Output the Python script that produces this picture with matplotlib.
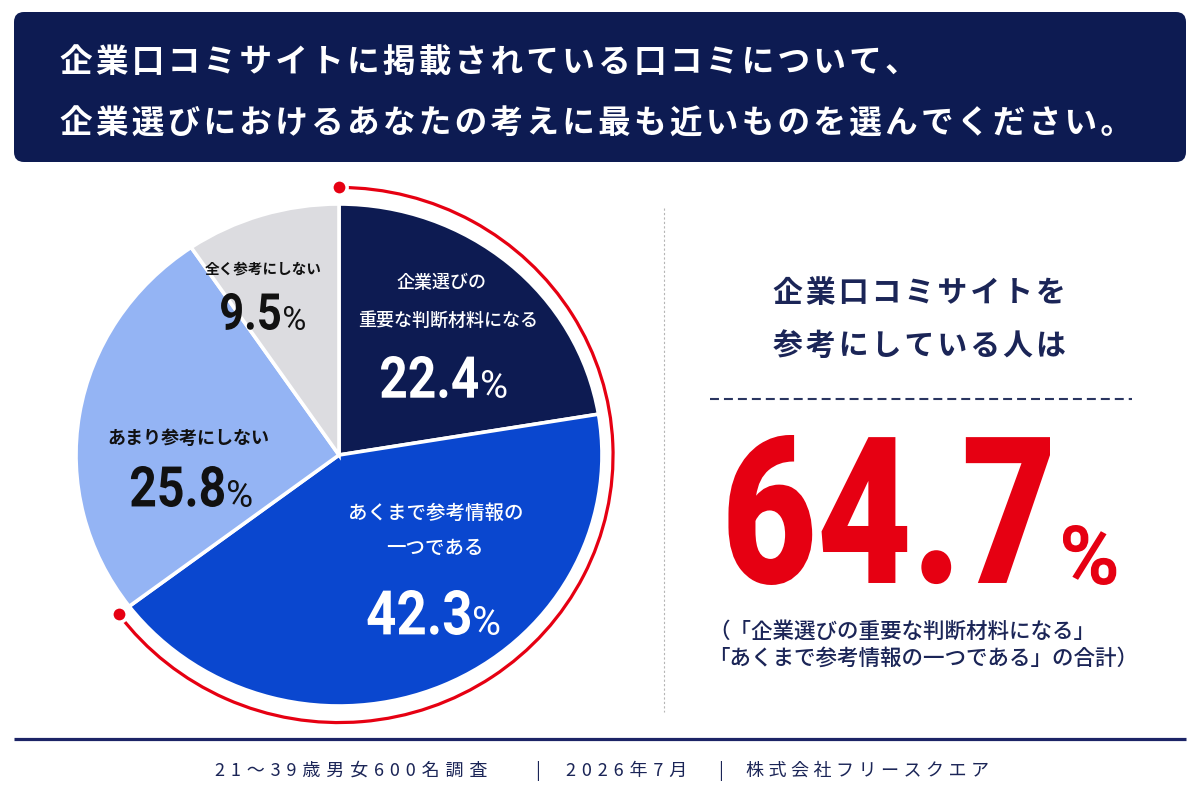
import matplotlib
matplotlib.use("Agg")
import matplotlib.pyplot as plt
import numpy as np
from matplotlib.patches import FancyBboxPatch, Arc, PathPatch
from matplotlib.textpath import TextPath
from matplotlib.font_manager import FontProperties
from matplotlib.transforms import Affine2D

JP = ["Noto Sans CJK JP", "DejaVu Sans"]
plt.rcParams["font.family"] = JP

NAVY = "#0d1b52"
BLUE = "#0a47cf"
LIGHT = "#94b4f4"
GRAY = "#dcdce0"
RED = "#e60012"
TEXT_NAVY = "#1b2557"
INK = "#111111"

# data (clockwise from the top)
labels = ["企業選びの\n重要な判断材料になる", "あくまで参考情報の\n一つである",
          "あまり参考にしない", "全く参考にしない"]
values = [22.4, 42.3, 25.8, 9.5]
colors = [NAVY, BLUE, LIGHT, GRAY]
total_label = "64.7"
title_lines = ["企業口コミサイトに掲載されている口コミについて、",
               "企業選びにおけるあなたの考えに最も近いものを選んでください。"]
headline = ["企業口コミサイトを", "参考にしている人は"]
note_lines = ["（「企業選びの重要な判断材料になる」", "「あくまで参考情報の一つである」の合計）"]
footer = ["21～39歳男女600名調査", "2026年7月", "株式会社フリースクエア"]


def track(s, sp="\u200a"):
  return sp.join(s)


fig = plt.figure(figsize=(12, 8), dpi=100)

# pie axes (slightly wider than tall, like the reference)
cx, cy, rx, ry, lim = 339, 455, 263, 251, 1.15
w, h = 2 * lim * rx, 2 * lim * ry
pax = fig.add_axes([(cx - w / 2) / 1200, (800 - cy - h / 2) / 800, w / 1200, h / 800])
pax.pie(values, colors=colors, startangle=90, counterclock=False, radius=1,
        wedgeprops=dict(edgecolor="white", linewidth=2.6))
pax.set_xlim(-lim, lim)
pax.set_ylim(-lim, lim)
pax.set_aspect("auto")
pax.axis("off")

# red arc over the "reference" share
share = values[0] + values[1]
a, b = 1.042, 1.066
t_end = 90 - 360 * share / 100
pax.add_patch(Arc((0, 0), 2 * a, 2 * b, theta1=t_end, theta2=90,
                  color=RED, lw=2.3, clip_on=False, zorder=5))
for th in (90, t_end):
  t = np.arctan2(a / b * np.sin(np.radians(th)), np.cos(np.radians(th)))
  pax.plot(a * np.cos(t), b * np.sin(t), "o", ms=11, color=RED, mec="white",
           mew=2.5, clip_on=False, zorder=6)

# overlay axes in pixel coordinates
ax = fig.add_axes([0, 0, 1, 1], zorder=2)
ax.set_xlim(0, 1200)
ax.set_ylim(800, 0)
ax.patch.set_alpha(0)
ax.axis("off")


def squeezed(s, x, base, height, color, anchor="right", squeeze=0.86, weight="bold"):
  # condensed number text, drawn as a path so it can be narrowed
  tp = TextPath((0, 0), s, size=100, prop=FontProperties(family="Roboto", weight=weight))
  ext = tp.get_extents()
  k = height / ext.height
  sx = k * squeeze
  x0 = x - ext.x1 * sx if anchor == "right" else x - ext.x0 * sx
  tr = Affine2D().translate(0, -ext.y0).scale(sx, -k).translate(x0, base)
  ax.add_patch(PathPatch(tr.transform_path(tp), fc=color, ec="none", lw=0))


def pct(s, x, base, height, pheight, color, gap=4, weight="bold", pweight="normal", squeeze=0.86):
  squeezed(s, x, base, height, color, weight=weight, squeeze=squeeze)
  squeezed("%", x + gap, base, pheight, color, anchor="left", squeeze=1.0, weight=pweight)


ax.add_patch(FancyBboxPatch((14, 12), 1172, 150, boxstyle="round,pad=0,rounding_size=10",
                            fc=NAVY, ec="none"))
for i, line in enumerate(title_lines):
  ax.text(60, 62 + 62 * i, track(line), color="white", fontsize=23.5,
          fontweight="bold", ha="left", va="center")

# pie labels
small = dict(ha="center", va="center")
top0, bot0 = labels[0].split("\n")
top1, bot1 = labels[1].split("\n")
ax.text(442, 283, top0, color="white", fontsize=13, fontweight="medium", **small)
ax.text(448, 321, bot0, color="white", fontsize=13, fontweight="medium", **small)
ax.text(436, 513, top1, color="white", fontsize=14, fontweight="medium", **small)
ax.text(435, 548, bot1, color="white", fontsize=14, fontweight="medium", **small)
ax.text(188, 438, labels[2], color=INK, fontsize=13, fontweight="bold", **small)
ax.text(263, 268, labels[3], color=INK, fontsize=10.5, fontweight="bold", **small)

pct(f"{values[0]}", 478, 398, 42, 28, "white")
pct(f"{values[1]}", 470, 635, 45, 29, "white")
pct(f"{values[2]}", 224, 507, 41, 27, INK)
pct(f"{values[3]}", 280, 330, 37, 24, INK)

# right panel
ax.plot([664, 664], [208, 712], color="#b5b5b5", lw=0.8, ls=(0, (2, 2)))
for i, line in enumerate(headline):
  ax.text(919, 293 + 53 * i, track(line), color=TEXT_NAVY, fontsize=21.5,
          fontweight="bold", ha="center", va="center")
ax.plot([710, 1132], [399, 399], color="#2a3560", lw=1.5, ls=(0, (4.3, 2.4)))
pct(total_label, 1050, 585, 150, 60, RED, gap=13, weight="heavy", pweight="bold", squeeze=0.8)
for i, line in enumerate(note_lines):
  ax.text(708, 632 + 27 * i, line, color=TEXT_NAVY, fontsize=15.5,
          fontweight="medium", ha="left", va="center")

# footer
ax.plot([14, 1186], [739, 739], color="#1c2466", lw=2.3, solid_capstyle="butt")
fkw = dict(color=TEXT_NAVY, fontsize=13, va="center")
ax.text(215, 771, track(footer[0], "\u2004"), ha="left", **fkw)
ax.text(538, 771, "|", ha="center", **fkw)
ax.text(566, 771, track(footer[1], "\u2004"), ha="left", **fkw)
ax.text(721, 771, "|", ha="center", **fkw)
ax.text(746, 771, track(footer[2], "\u2005"), ha="left", **fkw)

fig.savefig("out.png", dpi=100, facecolor="white")
